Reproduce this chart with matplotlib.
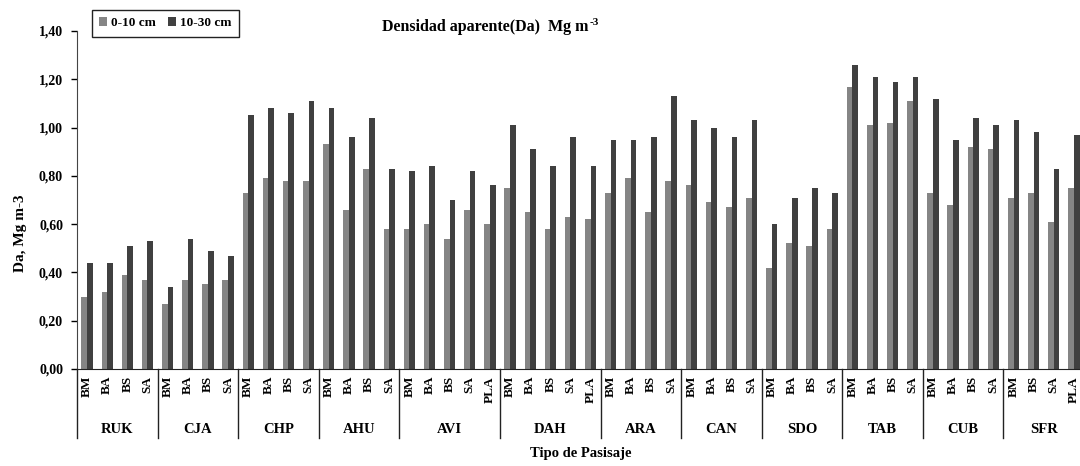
"""Densidad aparente por tipo de paisaje, dos profundidades."""
import matplotlib
matplotlib.use("Agg")
import matplotlib.pyplot as plt
import matplotlib.transforms as mtransforms
import numpy as np

plt.rcParams["font.family"] = ["Liberation Serif", "DejaVu Serif"]
plt.rcParams["font.weight"] = "bold"

groups = ["RUK", "CJA", "CHP", "AHU", "AVI", "DAH", "ARA", "CAN", "SDO", "TAB", "CUB", "SFR"]
group_items = [
    ["BM", "BA", "BS", "SA"],
    ["BM", "BA", "BS", "SA"],
    ["BM", "BA", "BS", "SA"],
    ["BM", "BA", "BS", "SA"],
    ["BM", "BA", "BS", "SA", "PLA"],
    ["BM", "BA", "BS", "SA", "PLA"],
    ["BM", "BA", "BS", "SA"],
    ["BM", "BA", "BS", "SA"],
    ["BM", "BA", "BS", "SA"],
    ["BM", "BA", "BS", "SA"],
    ["BM", "BA", "BS", "SA"],
    ["BM", "BS", "SA", "PLA"],
]

da_0_10 = [
    0.30, 0.32, 0.39, 0.37,
    0.27, 0.37, 0.35, 0.37,
    0.73, 0.79, 0.78, 0.78,
    0.93, 0.66, 0.83, 0.58,
    0.58, 0.60, 0.54, 0.66, 0.60,
    0.75, 0.65, 0.58, 0.63, 0.62,
    0.73, 0.79, 0.65, 0.78,
    0.76, 0.69, 0.67, 0.71,
    0.42, 0.52, 0.51, 0.58,
    1.17, 1.01, 1.02, 1.11,
    0.73, 0.68, 0.92, 0.91,
    0.71, 0.73, 0.61, 0.75,
]
da_10_30 = [
    0.44, 0.44, 0.51, 0.53,
    0.34, 0.54, 0.49, 0.47,
    1.05, 1.08, 1.06, 1.11,
    1.08, 0.96, 1.04, 0.83,
    0.82, 0.84, 0.70, 0.82, 0.76,
    1.01, 0.91, 0.84, 0.96, 0.84,
    0.95, 0.95, 0.96, 1.13,
    1.03, 1.00, 0.96, 1.03,
    0.60, 0.71, 0.75, 0.73,
    1.26, 1.21, 1.19, 1.21,
    1.12, 0.95, 1.04, 1.01,
    1.03, 0.98, 0.83, 0.97,
]

labels = [item for items in group_items for item in items]
x = np.arange(len(labels))
w = 0.28

fig = plt.figure(figsize=(10.8, 4.66), dpi=100)
ax = fig.add_axes([0.0713, 0.2082, 0.9324, 0.7253])

ax.bar(x - w / 2, da_0_10, w, color="#858585", label="0-10 cm")
ax.bar(x + w / 2, da_10_30, w, color="#404040", label="10-30 cm")

ax.set_xlim(-0.5, len(labels) - 0.5)
ax.set_ylim(0, 1.4)
yt = np.arange(0, 1.41, 0.2)
ax.set_yticks(yt)
ax.set_yticklabels([f"{v:.2f}".replace(".", ",") for v in yt],
                   fontsize=10, fontweight="bold")
ax.tick_params(axis="y", direction="out", length=4, width=1, pad=6)

ax.set_xticks(x)
ax.set_xticklabels(labels, rotation=90, fontsize=9.5, fontweight="bold")
ax.tick_params(axis="x", length=0, pad=5)

for side in ["top", "right"]:
    ax.spines[side].set_visible(False)
ax.spines["left"].set_color("#444444")
ax.spines["bottom"].set_color("#222222")

# group separators and names under the axis
trans = mtransforms.blended_transform_factory(ax.transData, ax.transAxes)
start = 0
for name, items in zip(groups, group_items):
    ax.plot([start - 0.5, start - 0.5], [0, -0.205], color="#222222", lw=1,
            transform=trans, clip_on=False)
    mid = start + (len(items) - 1) / 2
    ax.text(mid, -0.178, name, transform=trans, ha="center", va="center",
            fontsize=10.5, fontweight="bold")
    start += len(items)
ax.plot([start - 0.5, start - 0.5], [0, -0.205], color="#222222", lw=1,
        transform=trans, clip_on=False)

ax.text(0.5, -0.25, "Tipo de Pasisaje", transform=ax.transAxes, ha="center",
        va="center", fontsize=10.5, fontweight="bold")
fig.text(0.019, 0.5, "Da, Mg m-3", rotation=90, ha="center", va="center",
         fontsize=11, fontweight="bold")

# title with a plain "-3" superscript
title = fig.text(0.3537, 0.942, "Densidad aparente(Da)  Mg m",
                 ha="left", va="center", fontsize=11.5, fontweight="bold")
sup = fig.text(0, 0, "-3", fontsize=8, fontweight="bold", ha="left", va="top")
fig.canvas.draw()
bb = title.get_window_extent()
sup.set_position((bb.x1 / fig.bbox.width + 0.001,
                  (bb.y1 + 1) / fig.bbox.height))

leg = fig.legend(loc="upper left", bbox_to_anchor=(0.0852, 0.9785), ncol=2,
                 fontsize=9.5, handlelength=0.6, handleheight=0.6,
                 handletextpad=0.3, columnspacing=0.9, borderpad=0.55,
                 borderaxespad=0, fancybox=False, edgecolor="#222222",
                 framealpha=1)
leg.get_frame().set_linewidth(1)

fig.savefig("out.png", dpi=100)
